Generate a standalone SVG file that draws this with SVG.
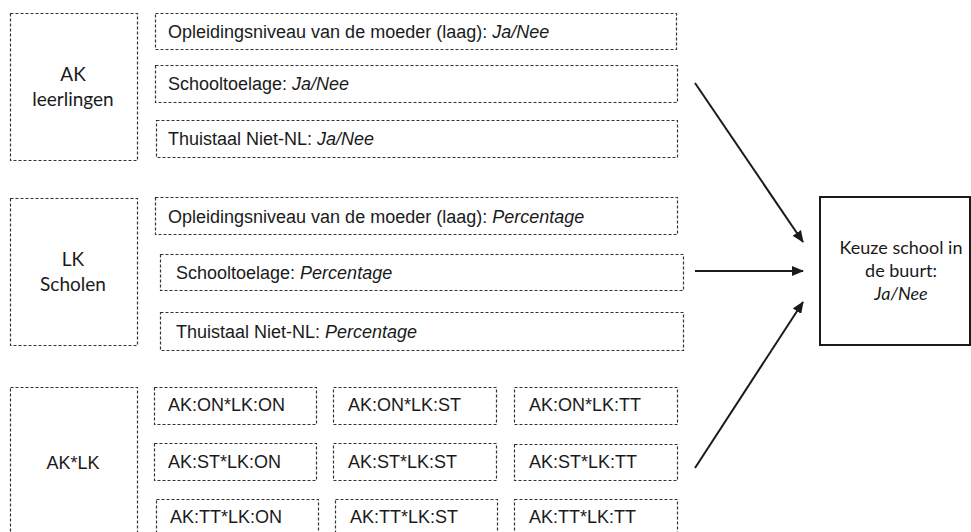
<svg xmlns="http://www.w3.org/2000/svg" width="971" height="532" viewBox="0 0 971 532">
<style>
.d{fill:#fff;stroke:#333;stroke-width:1.2;stroke-dasharray:3,2}
.t{font-family:"Liberation Sans",Arial,sans-serif;font-size:18px;fill:#1a1a1a}
.c{font-family:Lato,"Open Sans",sans-serif;font-size:19px;fill:#1a1a1a;text-anchor:middle}
.o{font-size:18px}
.i{font-style:italic}
.a{stroke:#1a1a1a;stroke-width:2;fill:none;marker-end:url(#ah)}
</style>
<defs>
<marker id="ah" viewBox="0 0 12 10" refX="11" refY="5" markerWidth="12" markerHeight="10" markerUnits="userSpaceOnUse" orient="auto">
<path d="M0,0 L12,5 L0,10 z" fill="#1a1a1a"/>
</marker>
</defs>
<rect width="971" height="532" fill="#fff"/>

<g id="ak">
<rect class="d" x="10.5" y="13.5" width="127" height="147"/>
<text class="c" x="73" y="81">AK</text>
<text class="c" x="73" y="106">leerlingen</text>
</g>
<g id="ak-on">
<rect class="d" x="155.5" y="13.5" width="521" height="36"/>
<text class="t" x="168" y="38">Opleidingsniveau van de moeder (laag): <tspan class="i">Ja/Nee</tspan></text>
</g>
<g id="ak-st">
<rect class="d" x="155.5" y="65.5" width="522" height="37"/>
<text class="t" x="168" y="90">Schooltoelage: <tspan class="i">Ja/Nee</tspan></text>
</g>
<g id="ak-tt">
<rect class="d" x="156.5" y="120.5" width="521" height="37"/>
<text class="t" x="168" y="145">Thuistaal Niet-NL: <tspan class="i">Ja/Nee</tspan></text>
</g>

<g id="lk">
<rect class="d" x="10.5" y="198.5" width="127" height="147"/>
<text class="c" x="73" y="266">LK</text>
<text class="c" x="73" y="291">Scholen</text>
</g>
<g id="lk-on">
<rect class="d" x="155.5" y="197.5" width="522" height="37"/>
<text class="t" x="168" y="223">Opleidingsniveau van de moeder (laag): <tspan class="i">Percentage</tspan></text>
</g>
<g id="lk-st">
<rect class="d" x="160.5" y="254.5" width="523" height="36"/>
<text class="t" x="176" y="279">Schooltoelage: <tspan class="i">Percentage</tspan></text>
</g>
<g id="lk-tt">
<rect class="d" x="160.5" y="312.5" width="523" height="38"/>
<text class="t" x="176" y="338">Thuistaal Niet-NL: <tspan class="i">Percentage</tspan></text>
</g>

<g id="aklk">
<rect class="d" x="10.5" y="387.5" width="127" height="160"/>
<text class="t" x="73" y="469" text-anchor="middle">AK*LK</text>
</g>
<g id="c11"><rect class="d" x="154.5" y="387.5" width="162" height="37"/><text class="t" x="168" y="411">AK:ON*LK:ON</text></g>
<g id="c12"><rect class="d" x="333.5" y="387.5" width="163" height="37"/><text class="t" x="348" y="411">AK:ON*LK:ST</text></g>
<g id="c13"><rect class="d" x="514.5" y="387.5" width="163" height="37"/><text class="t" x="529" y="411">AK:ON*LK:TT</text></g>
<g id="c21"><rect class="d" x="154.5" y="443.5" width="162" height="37"/><text class="t" x="168" y="468">AK:ST*LK:ON</text></g>
<g id="c22"><rect class="d" x="333.5" y="443.5" width="163" height="37"/><text class="t" x="348" y="468">AK:ST*LK:ST</text></g>
<g id="c23"><rect class="d" x="514.5" y="444.5" width="163" height="36"/><text class="t" x="529" y="468">AK:ST*LK:TT</text></g>
<g id="c31"><rect class="d" x="156.5" y="499.5" width="162" height="40"/><text class="t" x="170" y="523">AK:TT*LK:ON</text></g>
<g id="c32"><rect class="d" x="335.5" y="499.5" width="162" height="40"/><text class="t" x="350" y="523">AK:TT*LK:ST</text></g>
<g id="c33"><rect class="d" x="514.5" y="499.5" width="163" height="40"/><text class="t" x="529" y="523">AK:TT*LK:TT</text></g>

<g id="keuze">
<rect x="820" y="197" width="150" height="148" fill="#fff" stroke="#1a1a1a" stroke-width="2"/>
<text class="c o" x="901" y="254">Keuze school in</text>
<text class="c o" x="901" y="277">de buurt:</text>
<text class="c o i" x="901" y="300">Ja/Nee</text>
</g>

<g id="connectors">
<line class="a" x1="695" y1="83" x2="803" y2="242"/>
<line class="a" x1="695" y1="271" x2="803" y2="271"/>
<line class="a" x1="695" y1="468" x2="803" y2="302"/>
</g>
</svg>
